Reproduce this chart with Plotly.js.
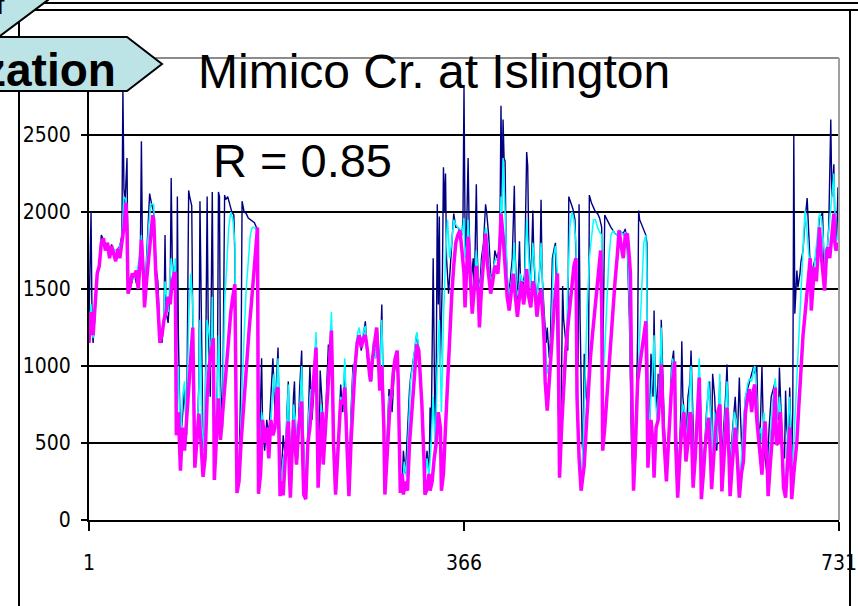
<!DOCTYPE html>
<html>
<head>
<meta charset="utf-8">
<script src="https://cdn.plot.ly/plotly-3.0.1.min.js"></script>
<style>
  html, body { margin: 0; padding: 0; background: #ffffff; }
  #chart { width: 858px; height: 606px; }
</style>
</head>
<body>
<div id="chart"></div>
<script>
// ---------- data (day, flow) ----------
const xTickVals = [1, 366, 731];
const xTickText = ["1", "366", "731"];
const yTickVals = [0, 500, 1000, 1500, 2000, 2500];
const yTickText = ["0", "500", "1000", "1500", "2000", "2500"];

const navyPts = [[1,1300],[3,2000],[4,1250],[5,1150],[7,1350],[9,1600],[11,1650],[13,1850],[15,1820],[17,1760],[19,1800],[21,1720],[23,1790],[25,1750],[27,1700],[29,1760],[31,1780],[33,1850],[34,2800],[35,2150],[36,2050],[38,2350],[39,1480],[41,1500],[43,1560],[45,1600],[47,1540],[49,1500],[51,1750],[52,2460],[53,1800],[55,1400],[57,1700],[59,2000],[60,2120],[62,2050],[64,2000],[66,1650],[68,1550],[70,1200],[72,1150],[74,1300],[75,1850],[76,1350],[78,1280],[80,1500],[81,2220],[82,1700],[84,1500],[85,1650],[86,700],[87,2100],[88,1200],[90,500],[92,700],[94,850],[96,550],[97,1200],[98,2140],[99,2100],[100,2060],[101,2040],[102,1250],[104,400],[106,500],[108,900],[109,2070],[110,1400],[112,450],[114,600],[116,2100],[117,1300],[119,800],[121,2130],[122,1200],[124,350],[126,900],[127,2130],[128,2100],[129,900],[131,600],[133,2110],[134,2080],[136,2100],[138,2050],[140,2000],[142,1980],[143,1700],[145,250],[147,300],[149,1000],[150,2070],[152,2000],[154,1990],[156,1960],[158,1950],[160,1940],[162,1930],[164,1900],[165,1880],[166,200],[167,500],[169,1050],[170,600],[172,450],[174,650],[176,550],[178,800],[180,1050],[182,700],[184,950],[185,1120],[186,700],[188,250],[190,550],[192,400],[194,750],[195,900],[196,600],[198,300],[200,800],[201,900],[202,600],[204,400],[206,850],[208,1100],[209,700],[211,250],[213,350],[215,800],[216,1000],[218,650],[220,850],[222,1180],[223,800],[225,350],[226,970],[228,750],[230,450],[232,800],[234,1140],[235,950],[237,1250],[238,900],[240,400],[242,250],[244,600],[246,880],[248,700],[250,1000],[252,600],[254,250],[256,700],[258,1010],[260,900],[262,1150],[264,1200],[266,1100],[268,1200],[270,1290],[272,1050],[274,1000],[276,900],[278,1160],[280,1050],[282,1200],[284,950],[286,1400],[287,1000],[289,300],[291,500],[293,850],[294,830],[296,700],[298,950],[300,1050],[302,900],[304,300],[306,250],[307,450],[309,300],[311,600],[313,850],[314,925],[316,1000],[318,1100],[320,1210],[322,1100],[324,900],[326,600],[328,300],[330,450],[332,300],[333,730],[334,500],[336,1700],[337,900],[338,420],[339,1000],[340,2050],[341,1400],[342,1970],[343,1000],[344,1290],[345,1600],[346,2290],[347,2000],[348,2250],[349,1700],[351,1470],[353,1700],[355,1850],[356,1990],[358,1900],[360,1900],[362,1880],[364,1850],[365,1950],[366,2810],[367,1900],[368,1700],[370,2350],[371,1900],[373,1550],[375,1700],[376,1450],[378,2180],[379,1700],[381,1450],[383,1700],[385,1800],[387,2050],[388,2000],[390,1850],[392,1600],[394,1550],[396,1750],[398,1700],[400,1750],[401,1900],[402,2690],[403,2050],[404,2600],[405,2350],[406,2330],[407,1750],[409,1450],[411,1550],[413,1700],[415,2170],[416,1700],[418,1400],[420,1810],[421,1550],[423,1500],[425,1600],[427,2390],[428,2300],[429,1800],[431,1500],[433,2010],[434,1700],[436,1450],[438,1500],[440,1650],[441,2080],[442,1600],[444,1350],[446,1150],[447,1250],[449,1050],[450,1150],[452,1700],[454,1770],[455,1800],[456,1500],[458,700],[460,400],[462,1520],[463,1300],[465,1160],[467,1100],[468,2100],[470,2060],[472,2020],[474,1950],[475,1700],[477,1000],[478,2050],[479,1300],[481,500],[482,400],[483,1080],[485,800],[487,700],[488,2110],[490,2060],[492,2030],[494,2000],[496,1990],[498,1960],[500,1900],[501,1000],[503,1980],[505,1950],[507,1920],[509,1900],[511,1880],[513,1860],[515,1850],[517,1880],[519,1870],[521,1860],[523,1890],[525,1750],[527,1300],[529,500],[531,250],[533,400],[535,1200],[536,2010],[537,1950],[539,1920],[541,1880],[543,1850],[544,1800],[545,600],[546,400],[548,1080],[550,800],[551,1360],[552,900],[554,700],[555,950],[557,750],[558,1300],[559,1000],[561,600],[563,350],[565,500],[567,800],[568,1000],[570,1100],[571,900],[573,500],[575,300],[577,700],[578,1160],[579,800],[581,650],[582,500],[584,800],[586,900],[587,1100],[588,800],[590,400],[592,500],[594,750],[595,950],[596,800],[598,300],[600,450],[602,700],[604,850],[605,900],[607,500],[608,950],[610,800],[612,450],[614,700],[615,900],[617,400],[619,600],[621,850],[622,1010],[623,800],[625,300],[627,550],[629,750],[630,800],[632,500],[634,925],[635,700],[637,350],[638,600],[640,800],[642,850],[644,900],[646,950],[648,1000],[649,950],[651,1000],[652,700],[654,500],[656,1000],[657,700],[659,400],[661,300],[663,600],[665,800],[667,850],[669,900],[670,700],[672,650],[673,990],[674,800],[676,450],[678,400],[679,840],[680,600],[682,500],[683,860],[684,650],[685,400],[686,700],[687,2500],[688,1340],[689,1500],[690,1620],[691,1510],[693,1600],[694,1680],[696,1750],[698,1950],[700,2090],[702,1800],[704,1470],[706,1650],[708,1700],[710,1800],[712,1970],[714,1980],[715,2000],[717,1500],[719,1700],[721,1900],[723,2600],[724,2100],[725,2200],[726,2310],[727,1900],[728,1750],[729,1900],[730,2160],[731,1800]];

const cyanPts = [[1,1200],[3,1400],[5,1180],[7,1400],[9,1620],[11,1650],[13,1820],[17,1780],[21,1740],[25,1760],[29,1740],[33,1820],[35,2100],[37,2080],[39,1480],[43,1560],[47,1580],[51,1750],[52,1850],[55,1420],[59,1900],[61,2050],[64,2050],[66,1650],[70,1180],[74,1300],[75,1550],[78,1350],[81,1700],[84,1550],[85,1700],[86,650],[88,1000],[90,450],[92,800],[94,900],[96,600],[98,1300],[100,1600],[102,1400],[104,380],[106,550],[108,850],[109,1300],[111,600],[113,450],[116,1300],[118,1200],[120,1050],[121,1450],[123,300],[126,850],[127,1200],[129,700],[131,650],[133,1400],[135,1700],[137,1900],[139,2000],[141,1950],[143,1800],[145,200],[147,280],[150,900],[152,1200],[154,1500],[156,1700],[158,1850],[160,1900],[162,1900],[164,1880],[165,1860],[166,190],[168,450],[169,700],[171,600],[173,500],[175,600],[177,500],[179,750],[181,950],[183,750],[185,1050],[186,750],[188,200],[190,400],[192,450],[194,700],[195,880],[196,600],[198,200],[200,750],[202,650],[204,400],[206,750],[208,1000],[209,750],[211,200],[213,300],[215,700],[217,850],[219,800],[221,1100],[222,1220],[223,800],[225,300],[227,750],[229,600],[231,600],[233,900],[235,1100],[237,1350],[238,1000],[240,350],[242,200],[244,550],[246,800],[248,750],[250,1050],[252,600],[254,200],[256,650],[258,950],[260,1050],[262,1200],[264,1250],[266,1150],[268,1220],[270,1260],[272,1080],[274,950],[276,920],[278,1150],[280,1050],[282,1230],[284,950],[286,1300],[287,1000],[289,220],[291,450],[293,800],[296,800],[298,1000],[300,1100],[302,900],[304,250],[306,220],[308,380],[310,280],[312,600],[314,900],[316,1000],[318,1100],[320,1220],[322,1120],[324,900],[326,550],[328,250],[330,400],[332,280],[334,500],[336,800],[338,450],[340,1000],[342,1300],[344,700],[346,1300],[348,1700],[350,1950],[352,1700],[354,1800],[356,1950],[358,1920],[360,1900],[362,1890],[364,1850],[366,1960],[367,1700],[369,1800],[370,1950],[372,1700],[374,1500],[376,1500],[378,1750],[380,1550],[382,1500],[384,1700],[387,1900],[389,1800],[391,1600],[393,1550],[395,1650],[397,1700],[399,1680],[401,1850],[402,2100],[403,2000],[404,2350],[406,2000],[408,1600],[410,1450],[412,1550],[414,1700],[415,1800],[417,1500],[419,1450],[421,1600],[423,1550],[425,1550],[427,1950],[429,1700],[431,1500],[433,1800],[435,1600],[437,1450],[439,1550],[441,1800],[443,1400],[445,1150],[447,950],[449,1000],[451,1200],[453,1700],[455,1780],[457,1600],[458,1000],[459,350],[461,600],[463,800],[465,1000],[467,1500],[469,1900],[471,2000],[473,1950],[475,1800],[476,1000],[478,400],[480,250],[482,500],[484,1000],[486,1400],[488,1700],[490,1850],[492,1950],[494,1950],[496,1900],[498,1870],[500,1850],[501,900],[503,1100],[505,1400],[507,1700],[509,1850],[511,1880],[513,1860],[515,1850],[517,1880],[519,1870],[521,1850],[523,1870],[525,1800],[527,1400],[529,700],[531,220],[533,500],[535,900],[537,1200],[539,1500],[541,1800],[543,1850],[544,1600],[545,500],[547,700],[549,900],[551,1200],[552,800],[554,650],[556,900],[558,1250],[559,900],[561,500],[563,280],[565,450],[567,800],[569,1050],[571,950],[573,450],[575,180],[577,600],[579,750],[581,700],[583,500],[585,750],[587,1000],[589,450],[591,400],[593,750],[595,1050],[596,800],[598,200],[600,400],[602,700],[604,900],[606,700],[608,400],[610,700],[612,500],[614,750],[615,950],[617,300],[619,550],[621,800],[622,900],[624,600],[625,200],[627,500],[629,700],[631,650],[633,400],[634,250],[636,400],[638,650],[640,800],[642,880],[644,920],[646,900],[648,980],[649,1000],[651,800],[653,550],[655,600],[656,500],[658,700],[660,450],[662,250],[664,500],[666,750],[668,850],[669,920],[671,650],[673,800],[675,600],[677,300],[679,250],[681,600],[683,800],[685,300],[687,500],[689,800],[691,1100],[693,1400],[695,1700],[697,1900],[698,2010],[700,1850],[702,1700],[704,1450],[706,1600],[708,1700],[710,1850],[712,1990],[714,1950],[716,1800],[718,1600],[720,1800],[722,1950],[724,2150],[726,2250],[727,2000],[728,1800],[730,1850],[731,1800]];

const magentaPts = [[1,1150],[3,1350],[5,1200],[7,1400],[9,1600],[11,1650],[13,1800],[15,1830],[17,1750],[19,1800],[21,1700],[23,1780],[25,1720],[27,1680],[29,1760],[31,1700],[33,1800],[35,1900],[37,2060],[38,1900],[39,1470],[41,1520],[43,1600],[45,1580],[47,1620],[49,1500],[51,1700],[52,1820],[54,1600],[55,1380],[57,1550],[59,1700],[61,1850],[63,1980],[64,1950],[65,1750],[66,1600],[68,1400],[70,1150],[72,1200],[74,1300],[76,1350],[78,1450],[80,1400],[82,1550],[84,1600],[85,1600],[86,550],[88,700],[90,320],[92,600],[94,450],[96,640],[98,900],[100,1100],[102,1250],[104,340],[106,500],[108,690],[110,500],[112,280],[114,400],[116,800],[118,1000],[120,1100],[122,1180],[123,260],[125,500],[127,790],[129,520],[131,700],[133,860],[135,1000],[137,1200],[139,1350],[141,1450],[143,1530],[145,176],[147,250],[149,500],[151,700],[153,900],[155,1080],[157,1250],[159,1400],[161,1550],[163,1700],[165,1900],[166,170],[168,300],[170,650],[172,500],[174,600],[176,400],[178,650],[180,550],[182,600],[184,850],[185,860],[186,600],[187,155],[189,250],[190,160],[192,400],[194,600],[195,640],[196,300],[197,145],[199,500],[200,650],[202,450],[203,360],[205,600],[207,750],[208,770],[209,400],[210,165],[212,135],[214,500],[216,600],[218,800],[220,950],[222,1120],[223,700],[224,210],[226,500],[228,700],[229,360],[231,600],[233,850],[234,970],[236,1150],[237,1230],[238,900],[239,500],[241,165],[243,400],[245,700],[246,780],[248,750],[250,860],[252,500],[254,155],[256,500],[258,800],[260,1000],[262,1150],[264,1200],[266,1120],[268,1180],[270,1200],[272,1100],[274,950],[275,900],[277,1050],[279,1150],[281,1250],[283,1000],[284,840],[286,1000],[288,600],[289,165],[291,400],[293,650],[294,750],[296,850],[297,950],[299,1050],[301,1100],[302,900],[304,176],[306,300],[307,165],[309,250],[311,190],[313,500],[315,700],[317,900],[319,1050],[320,1140],[322,1100],[324,900],[325,750],[327,400],[328,165],[330,200],[332,300],[333,190],[335,250],[337,400],[339,500],[341,700],[343,600],[344,190],[346,300],[348,600],[350,900],[352,1200],[354,1450],[356,1650],[358,1800],[360,1850],[362,1880],[364,1750],[366,1600],[367,1380],[369,1700],[370,1840],[372,1600],[374,1340],[376,1500],[378,1650],[380,1450],[381,1250],[383,1500],[385,1700],[387,1860],[389,1650],[391,1500],[392,1470],[394,1550],[396,1650],[397,1640],[399,1600],[401,1800],[402,1990],[404,1850],[406,1600],[408,1450],[410,1360],[412,1500],[414,1600],[416,1450],[418,1320],[420,1450],[422,1550],[424,1400],[426,1500],[427,1630],[429,1450],[431,1380],[433,1550],[435,1500],[437,1320],[439,1450],[441,1500],[443,1300],[444,1160],[445,900],[447,710],[449,900],[450,1000],[452,1250],[454,1400],[456,1550],[457,1600],[458,1000],[459,275],[461,600],[463,900],[465,1100],[467,1250],[469,1400],[471,1550],[473,1650],[475,1700],[476,800],[478,400],[480,190],[482,300],[483,350],[485,600],[487,850],[489,1050],[491,1200],[493,1350],[495,1500],[497,1600],[499,1750],[500,1400],[501,450],[503,600],[505,800],[507,1000],[509,1200],[511,1400],[513,1550],[515,1700],[517,1880],[519,1780],[521,1700],[523,1850],[525,1860],[527,1700],[528,1600],[529,1000],[531,190],[533,500],[535,900],[537,1000],[539,1100],[541,1200],[543,1290],[544,900],[545,340],[547,600],[548,650],[550,500],[551,275],[553,600],[555,650],[557,850],[558,1010],[560,600],[562,350],[563,250],[565,500],[567,750],[568,860],[570,950],[571,1030],[572,500],[574,145],[576,400],[578,600],[580,700],[582,380],[584,500],[586,700],[587,680],[589,210],[591,400],[593,700],[595,925],[596,600],[597,135],[599,300],[601,500],[603,600],[604,665],[606,400],[607,200],[609,400],[611,600],[613,700],[615,750],[616,500],[617,185],[619,400],[621,650],[622,730],[624,400],[625,155],[627,350],[629,550],[630,600],[632,400],[634,145],[636,300],[638,380],[640,700],[642,800],[644,850],[646,700],[648,850],[649,880],[651,650],[653,500],[655,400],[656,295],[658,550],[659,640],[661,400],[662,155],[664,350],[666,500],[668,700],[669,860],[670,490],[672,500],[674,700],[676,400],[677,210],[679,145],[681,400],[683,600],[684,400],[685,135],[687,300],[689,450],[690,510],[692,750],[694,1000],[696,1200],[698,1340],[700,1500],[702,1680],[703,1700],[704,1360],[706,1550],[707,1640],[709,1550],[711,1750],[712,1900],[714,1700],[716,1550],[717,1490],[719,1750],[720,1770],[722,1700],[724,1850],[726,1990],[727,1800],[728,1750],[730,1800],[731,1750]];

// ---------- layout geometry (pixels) ----------
const W = 858, H = 606;
const L = 89, R = 839, T = 58, B = 520;
const px = x => (x - L) / (R - L);
const py = y => (B - y) / (B - T);

function mk(pts, color, width) {
  return {
    type: 'scatter', mode: 'lines',
    x: pts.map(p => p[0]), y: pts.map(p => p[1]),
    line: { color: color, width: width },
    hoverinfo: 'skip', showlegend: false
  };
}

const traces = [
  mk(navyPts, '#000080', 1.4),
  mk(cyanPts, '#00FFFF', 1.5),
  mk(magentaPts, '#FF00FF', 3.5)
];

const calloutFill = '#BCE3E6';
function pathPx(points) {
  return 'M ' + points.map(p => px(p[0]) + ',' + py(p[1])).join(' L ') + ' Z';
}

const shapes = [
  // plot-area border (grey, top and right)
  { type: 'line', xref: 'paper', yref: 'paper', x0: 0, x1: 1, y0: 1, y1: 1,
    line: { color: '#8C8C8C', width: 2 } },
  { type: 'line', xref: 'paper', yref: 'paper', x0: 1, x1: 1, y0: 0, y1: 1,
    line: { color: '#A0A0A0', width: 2 } },
  // outer frame lines
  { type: 'line', xref: 'paper', yref: 'paper', x0: px(0), x1: px(858), y0: py(3), y1: py(3),
    line: { color: '#000000', width: 2 } },
  { type: 'line', xref: 'paper', yref: 'paper', x0: px(19), x1: px(858), y0: py(10), y1: py(10),
    line: { color: '#000000', width: 2 } },
  { type: 'line', xref: 'paper', yref: 'paper', x0: px(19), x1: px(19), y0: py(10), y1: py(610),
    line: { color: '#000000', width: 2 } },
  { type: 'line', xref: 'paper', yref: 'paper', x0: px(850), x1: px(850), y0: py(10), y1: py(610),
    line: { color: '#000000', width: 2 } },
  // upper partial callout
  { type: 'path', xref: 'paper', yref: 'paper', layer: 'above',
    path: pathPx([[-5, -5], [52, -5], [48, 0], [0, 36], [-5, 36]]),
    fillcolor: calloutFill, line: { color: '#000000', width: 2 } },
  // arrow callout
  { type: 'path', xref: 'paper', yref: 'paper', layer: 'above',
    path: pathPx([[-5, 37], [127, 37], [162, 64], [127, 91], [-5, 91]]),
    fillcolor: calloutFill, line: { color: '#000000', width: 2 } }
];

const textFont = 'Liberation Sans, Arial, sans-serif';
const annotations = [
  { xref: 'paper', yref: 'paper', x: px(196), y: py(72), xanchor: 'left', yanchor: 'middle',
    text: 'Mimico Cr. at Islington', showarrow: false,
    font: { family: textFont, size: 48, color: '#000000' } },
  { xref: 'paper', yref: 'paper', x: px(211), y: py(160), xanchor: 'left', yanchor: 'middle',
    text: 'R = 0.85', showarrow: false,
    font: { family: textFont, size: 47, color: '#000000' } },
  { xref: 'paper', yref: 'paper', x: px(118), y: py(70), xanchor: 'right', yanchor: 'middle',
    text: '<b>zation</b>', showarrow: false,
    font: { family: textFont, size: 46, color: '#000000' } },
  { xref: 'paper', yref: 'paper', x: px(7), y: py(5), xanchor: 'right', yanchor: 'middle',
    text: '<b>f</b>', showarrow: false,
    font: { family: textFont, size: 28, color: '#000000' } }
];

const tickFont = { family: 'DejaVu Sans Condensed, Liberation Sans Narrow, sans-serif', size: 21, color: '#000000' };

const layout = {
  width: W, height: H,
  margin: { l: L, r: W - R, t: T, b: H - B, pad: 0 },
  paper_bgcolor: '#ffffff', plot_bgcolor: '#ffffff',
  showlegend: false,
  xaxis: {
    range: [1, 731], tickmode: 'array', tickvals: xTickVals, ticktext: xTickText,
    ticks: 'outside', ticklen: 9, tickwidth: 2, tickcolor: '#000000',
    showline: true, linecolor: '#000000', linewidth: 2,
    showgrid: false, zeroline: false, tickfont: tickFont, ticklabelstandoff: 14,
    ticklabeloverflow: 'allow'
  },
  yaxis: {
    range: [0, 3000], tickmode: 'array', tickvals: yTickVals, ticktext: yTickText,
    ticks: 'outside', ticklen: 6, tickwidth: 2, tickcolor: '#000000',
    showline: true, linecolor: '#000000', linewidth: 2,
    showgrid: true, gridcolor: '#000000', gridwidth: 2,
    zeroline: false, tickfont: tickFont, ticklabelstandoff: 6,
    ticklabeloverflow: 'allow'
  },
  shapes: shapes,
  annotations: annotations
};

Plotly.newPlot('chart', traces, layout, { staticPlot: true, displayModeBar: false });
</script>
</body>
</html>
